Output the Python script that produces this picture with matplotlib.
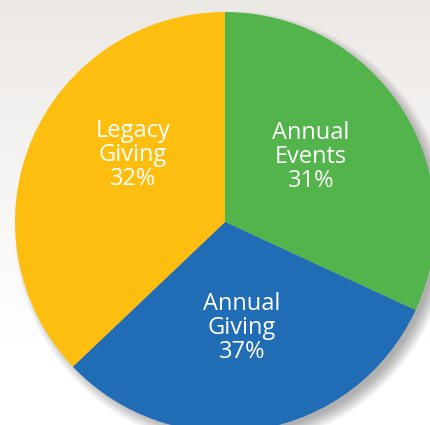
import numpy as np
import matplotlib
matplotlib.use("Agg")
import matplotlib.pyplot as plt
from matplotlib.patches import Circle

# wedge sizes as drawn (clockwise from 12 o'clock) and the printed labels
names = ["Annual\nEvents", "Annual\nGiving", "Legacy\nGiving"]
shares = [31.9, 31.0, 37.1]
pct_text = ["31%", "37%", "32%"]
colors = ["#52B44A", "#206CB5", "#FDBE10"]

W, H = 431, 425
fig = plt.figure(figsize=(W / 100, H / 100), dpi=100)
ax = fig.add_axes([0, 0, 1, 1])

# light grey to white background gradient
grad = np.linspace(0, 1, 256)[:, None]
top = np.array([236, 233, 229]) / 255
bot = np.array([255, 255, 255]) / 255
t = np.clip(grad * 1.25, 0, 1)
bg = top[None, None, :] * (1 - t[..., None]) + bot[None, None, :] * t[..., None]
bg = np.repeat(bg, 2, axis=1)
ax.imshow(bg, extent=[0, W, 0, H], origin="upper", aspect="auto", zorder=0)

cx, cy, r = 225, H - 222, 210

# soft drop shadow, mostly to the lower right
for i in range(14):
    ax.add_patch(Circle((cx + 7, cy - 7), r + 8 - i, color="black",
                        alpha=0.022, lw=0, zorder=1))

wedges, _ = ax.pie(shares, colors=colors, startangle=90, counterclock=False,
                   radius=r, center=(cx, cy),
                   wedgeprops=dict(linewidth=0, zorder=2))
for w in wedges:
    w.set_zorder(2)

# label anchors (pixels from pie centre)
offsets = [(86, 65), (17, -106), (-92, 67)]
for name, pct, (dx, dy) in zip(names, pct_text, offsets):
    ax.text(cx + dx, cy + dy, name + "\n" + pct, ha="center", va="center",
            color="white", fontsize=17, family="Open Sans", weight="medium",
            linespacing=0.98, zorder=3)

# pie() resets the limits, so set them afterwards
ax.set_xlim(0, W)
ax.set_ylim(0, H)
ax.set_aspect("equal")
ax.axis("off")

fig.savefig("out.png", dpi=100)
